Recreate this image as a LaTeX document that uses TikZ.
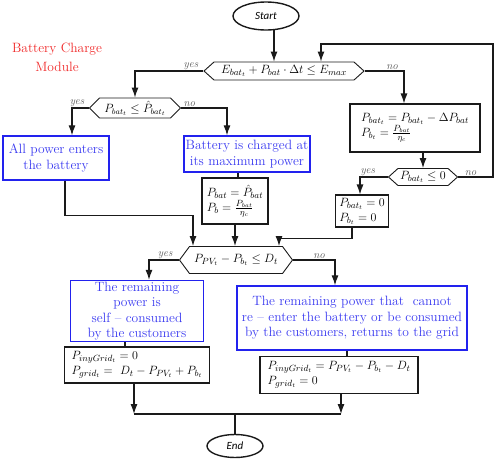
\documentclass[tikz,border=0pt]{standalone}
\usepackage{fontspec}
\usepackage{amsmath,amssymb}
\usetikzlibrary{arrows.meta,shapes.geometric,shapes.symbols}
\newfontfamily\termfont{Carlito}
\definecolor{Ink}{HTML}{1A1A1A}
\definecolor{BoxBlue}{HTML}{2222EE}
\definecolor{TxtBlue}{HTML}{3A3AF0}
\definecolor{Note}{HTML}{F02828}
\definecolor{Muted}{HTML}{555555}
\tikzset{
  >={Latex[length=10pt,width=7pt]},
  term/.style={ellipse,draw=Ink,line width=1.4pt,fill=white,inner sep=0pt,font=\termfont\itshape\fontsize{11}{12}\selectfont},
  dec/.style={signal,signal to=west and east,draw=Ink,line width=.9pt,inner sep=0pt,font=\fontsize{13}{15}\selectfont},
  bluebox/.style={rectangle,draw=BoxBlue,line width=1.3pt,text=TxtBlue,align=center,inner sep=0pt,font=\fontsize{13.5}{15.5}\selectfont},
  eqbox/.style={rectangle,draw=Ink,line width=1.1pt,align=left,inner sep=1.5pt,font=\fontsize{13}{15}\selectfont},
  flow/.style={->,line width=1.1pt,draw=Ink},
  link/.style={line width=1.1pt,draw=Ink},
  lab/.style={font=\itshape\fontsize{11}{12}\selectfont,text=Muted,inner sep=1pt},
  note/.style={text=Note,align=center,font=\fontsize{13.5}{19}\selectfont}
}
\begin{document}
\begin{tikzpicture}[x=1pt,y=-1pt]
  \useasboundingbox (0,0) rectangle (498,461);
  \node[term,minimum width=66,minimum height=28] (start) at (266,16) {Start};
  \node[note] (title) at (57,57) {Battery Charge\\Module};

  \node[dec,minimum width=160,minimum height=18,signal pointer angle=84] (chk1) at (284,71)
     {$E_{bat_t}+P_{bat}\cdot\Delta t\le E_{max}$};
  \node[dec,minimum width=91,minimum height=20,signal pointer angle=90,font=\fontsize{12}{14}\selectfont] (chk2) at (135,108)
     {$P_{bat_t}\le\hat{P}_{bat_t}$};
  \node[eqbox,minimum width=130,minimum height=48] (redu) at (415,128)
     {$P_{bat_t}=P_{bat_t}-\Delta P_{bat}$\\$P_{b_t}=\frac{P_{bat}}{\eta_c}$};
  \node[bluebox,minimum width=106,minimum height=44] (all) at (56,158)
     {All power enters\\the battery};
  \node[bluebox,minimum width=126,minimum height=36] (maxp) at (247,154)
     {Battery is charged at\\its maximum power};
  \node[dec,minimum width=69,minimum height=17,signal pointer angle=84] (chk3) at (423,177)
     {$P_{bat_t}\le 0$};
  \node[eqbox,minimum width=66,minimum height=46] (maxeq) at (235,201)
     {$P_{bat}=\hat{P}_{bat}$\\$P_b=\frac{P_{bat}}{\eta_c}$};
  \node[eqbox,minimum width=53,minimum height=32] (zero) at (362,211)
     {$P_{bat_t}=0$\\$P_{b_t}=0$};
  \node[dec,minimum width=113,minimum height=27,signal pointer angle=107] (chk4) at (236,260)
     {$P_{PV_t}-P_{b_t}\le D_t$};
  \node[bluebox,minimum width=133,minimum height=61] (self) at (137,311)
     {The remaining\\power is\\self -- consumed\\by the customers};
  \node[bluebox,minimum width=230,minimum height=64] (back) at (352,318)
     {The remaining power that\ \ cannot\\re -- enter the battery or be consumed\\by the customers, returns to the grid};
  \node[eqbox,minimum width=145,minimum height=36] (selfeq) at (137,365)
     {$P_{inyGrid_t}=0$\\$P_{grid_t}=\ D_t-P_{PV_t}+P_{b_t}$};
  \node[eqbox,minimum width=158,minimum height=37] (backeq) at (339,375)
     {$P_{inyGrid_t}=P_{PV_t}-P_{b_t}-D_t$\\$P_{grid_t}=0$};
  \node[term,minimum width=56,minimum height=23] (end) at (235,446) {End};

  \coordinate (join) at (235,414);
  \coordinate (loop) at (493,44);
  \coordinate (loopin) at (321,44);

  % charge check
  \draw[flow] ([xshift=8,yshift=.8]start.south) -- ([xshift=-10]chk1.north);
  \draw[flow] (chk1.west) -| node[lab,above,pos=.09]{yes} (chk2.north);
  \draw[flow] (chk1.east) -| node[lab,above,pos=.35]{no} ([xshift=-11]redu.north);
  \draw[flow] (chk2.west) -| node[lab,above,pos=.35]{yes} ([xshift=16]all.north);
  \draw[flow] (chk2.east) -| node[lab,above,pos=.09]{no} ([xshift=-20]maxp.north);
  \draw[link] ([xshift=-9]maxp.south) -- ([xshift=-9]maxp.south |- maxeq.north);
  \draw[flow] (redu.south -| chk3.north) -- (chk3.north);
  \draw[flow] (chk3.west) -| node[lab,above,pos=.36]{yes} ([xshift=-2]zero.north);
  \draw[flow] (chk3.east) -- node[lab,above,pos=.36]{no} (chk3.east -| loop)
     -- (loop) -- (loopin) -- (loopin |- chk1.north);

  % demand check
  \draw[flow] ([xshift=9]all.south) -- ++(0,35) -| ([xshift=-43]chk4.north);
  \draw[flow] (maxeq.south) -- (maxeq.south |- chk4.north);
  \draw[flow] ([xshift=-10]zero.south) -- ++(0,11) -| ([xshift=43]chk4.north);
  \draw[flow] (chk4.west) -| node[lab,above,pos=.23]{yes} ([xshift=12]self.north);
  \draw[flow] (chk4.east) -| node[lab,above,pos=.31]{no} ([xshift=-17]back.north);
  \draw[link] ([xshift=-12]self.south) -- ([xshift=-12]self.south |- selfeq.north);
  \draw[link] ([xshift=-5]back.south) -- ([xshift=-5]back.south |- backeq.north);

  % end
  \draw[flow] ([xshift=-3]selfeq.south) -- ([xshift=-3]selfeq.south |- join);
  \draw[flow] ([xshift=2]backeq.south) -- ([xshift=2]backeq.south |- join);
  \draw[link] ([xshift=-3]selfeq.south |- join) -- ([xshift=2]backeq.south |- join);
  \draw[link] (join) -- (end.north);
\end{tikzpicture}
\end{document}
